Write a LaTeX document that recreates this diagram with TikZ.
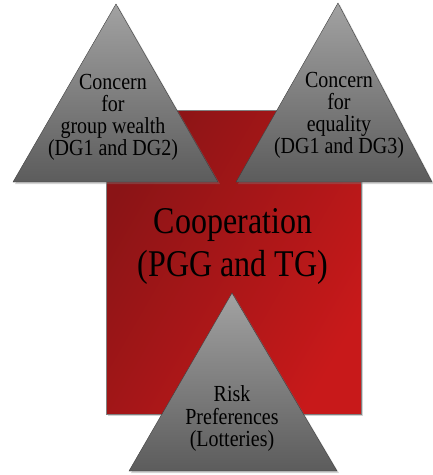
\documentclass[tikz,border=0pt]{standalone}
\usepackage{fontspec}
\setmainfont{Liberation Serif}
\usetikzlibrary{shadows}
\definecolor{coopdark}{HTML}{8A1416}
\definecolor{coopbright}{HTML}{C8191A}
\definecolor{trilight}{HTML}{A2A2A2}
\definecolor{tridark}{HTML}{5C5C5C}
\newcommand{\tallstack}[2][1.15]{\scalebox{1}[#1]{\begin{tabular}{@{}c@{}}#2\end{tabular}}}
\tikzstyle{coopbox} = [draw=black!50, thin, left color=coopdark, right color=coopbright, shading angle=60, drop shadow={opacity=0.35, shadow xshift=2pt, shadow yshift=-2pt}]
\tikzstyle{factor} = [draw=black!75, thin, top color=trilight, bottom color=tridark, drop shadow={opacity=0.35, shadow xshift=2pt, shadow yshift=-2pt}]
\tikzstyle{tritext} = [inner sep=0pt, text centered, font=\fontsize{20}{17.8}\selectfont]
\tikzstyle{cooptext} = [inner sep=0pt, text centered, font=\fontsize{32}{36.5}\selectfont]

\begin{document}
\begin{tikzpicture}[x=1pt, y=-1pt]
	\useasboundingbox (0,0) rectangle (433,475);

	% central box
	\path [coopbox] (106,110) rectangle (361,414);
	\node [cooptext] (coop) at (233,246) {\tallstack[1.18]{Cooperation\\(PGG and TG)}};

	% triangles
	\path [factor] (116,4) -- (218,182) -- (13,182) -- cycle;
	\path [factor] (338,3) -- (432,182) -- (236,182) -- cycle;
	\path [factor] (232,293) -- (337,471) -- (129,471) -- cycle;

	% triangle labels
	\node [tritext] (wealth)   at (113,118) {\tallstack{Concern\\for\\group wealth\\(DG1 and DG2)}};
	\node [tritext] (equality) at (339,116) {\tallstack{Concern\\for\\equality\\(DG1 and DG3)}};
	\node [tritext] (risk)     at (232,419) {\tallstack{Risk\\Preferences\\(Lotteries)}};
\end{tikzpicture}
\end{document}
